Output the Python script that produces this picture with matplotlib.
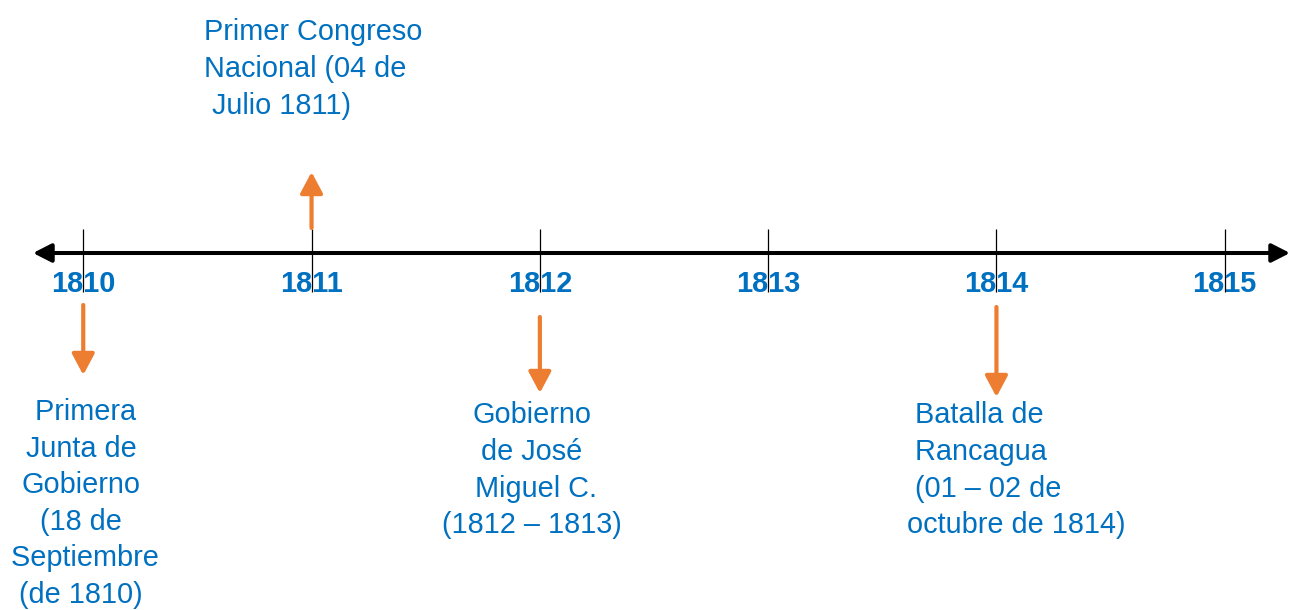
import matplotlib
matplotlib.use("Agg")
import matplotlib.pyplot as plt

# ---- data ----
years = [1810, 1811, 1812, 1813, 1814, 1815]
year_labels = ["1810", "1811", "1812", "1813", "1814", "1815"]
event_years = [1810, 1811, 1812, 1814]
event_labels = [
    " Primera\nJunta de\nGobierno\n(18 de\n Septiembre\n(de 1810)",
    "Primer Congreso\nNacional (04 de\n Julio 1811)",
    "Gobierno\nde José\n Miguel C.\n(1812 – 1813)",
    " Batalla de\n Rancagua\n (01 – 02 de\noctubre de 1814)",
]
event_side = ["below", "above", "below", "below"]

# ---- style ----
BLUE = "#0070C0"
ORANGE = "#ED7D31"
FONT = "Liberation Sans"
FS = 20.8
W, H = 1291, 610
px_per_year = 228.3
x_center_px = 654.0

fig = plt.figure(figsize=(W / 100, H / 100), dpi=100)
ax = fig.add_axes([0, 0, 1, 1])
ax.set_xlim(1812.5 - x_center_px / px_per_year, 1812.5 + (W - x_center_px) / px_per_year)
ax.set_ylim(H, 0)
ax.axis("off")

def px(d):
    return d / px_per_year

# main timeline with arrowheads at both ends
ax.annotate("", xy=(1290 / W, 253), xytext=(33 / W, 253),
            xycoords=ax.get_yaxis_transform(), textcoords=ax.get_yaxis_transform(),
            arrowprops=dict(arrowstyle="<|-|>,head_length=0.55,head_width=0.28",
                            mutation_scale=20, lw=2.9, color="black",
                            shrinkA=0, shrinkB=0))

# ticks and year labels
for y, lab in zip(years, year_labels):
    ax.plot([y, y], [229, 292], color="black", lw=0.9, solid_capstyle="butt")
    ax.text(y, 292, lab, ha="center", va="baseline", fontsize=FS,
            fontweight="bold", color=BLUE, family=FONT)

# event arrows and labels
arrow_span = {1810: (305, 375), 1811: (228, 172), 1812: (317, 393), 1814: (307, 397)}
text_place = {
    1810: dict(dx=-2, y=398, ha="center", ls=1.39),
    1811: dict(dx=-108, y=18, ha="left", ls=1.40),
    1812: dict(dx=-8, y=401, ha="center", ls=1.40),
    1814: dict(dx=-89, y=401, ha="left", ls=1.40),
}
for ey, lab, side in zip(event_years, event_labels, event_side):
    y0, y1 = arrow_span[ey]
    ax.annotate("", xy=(ey, y1), xytext=(ey, y0),
                arrowprops=dict(arrowstyle="-|>,head_length=0.75,head_width=0.4",
                                mutation_scale=17, lw=3, color=ORANGE,
                                shrinkA=0, shrinkB=0))
    tp = text_place[ey]
    ax.text(ey + px(tp["dx"]), tp["y"], lab, ha=tp["ha"], va="top",
            multialignment=tp["ha"], fontsize=FS, color=BLUE, family=FONT,
            linespacing=tp["ls"])

fig.savefig("out.png", dpi=100)
